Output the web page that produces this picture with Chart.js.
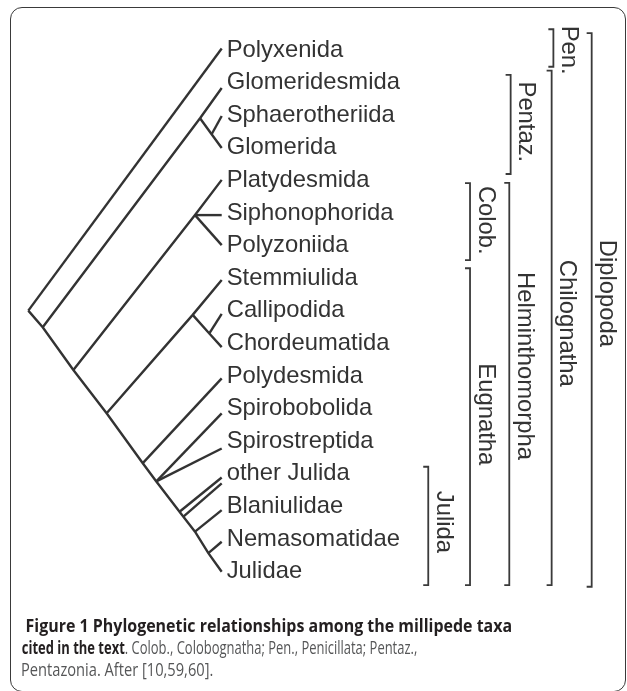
<!DOCTYPE html>
<html>
<head>
<meta charset="utf-8">
<script src="https://cdn.jsdelivr.net/npm/chart.js@4.4.1/dist/chart.umd.min.js"></script>
<style>
  html, body { margin: 0; padding: 0; background: #fff; }
  #wrap { position: relative; width: 627px; height: 691px; overflow: hidden; }
  #frame {
    position: absolute; left: 10px; top: 7px; width: 616px; height: 685px;
    box-sizing: border-box; border: 1.6px solid #3a3a3a; border-radius: 12px;
    pointer-events: none;
  }
  canvas { position: absolute; left: 0; top: 0; }
</style>
</head>
<body>
<div id="wrap">
  <canvas id="tree" width="627" height="691"></canvas>
  <div id="frame"></div>
</div>
<script>
// leaves, top to bottom (row = index)
const taxa = ['Polyxenida', 'Glomeridesmida', 'Sphaerotheriida', 'Glomerida', 'Platydesmida',
  'Siphonophorida', 'Polyzoniida', 'Stemmiulida', 'Callipodida', 'Chordeumatida', 'Polydesmida',
  'Spirobobolida', 'Spirostreptida', 'other Julida', 'Blaniulidae', 'Nemasomatidae', 'Julidae']
const tipDepth = 10
const tipRow = [0, 1.21, 2.07, 3.05, 4.03, 5.11, 6.03, 7.10, 8.14, 9.16, 10.12, 11.19, 12.27, 13.16, 14.16, 15.13, 16.05]

// internal nodes (depth from root, row position)
const nodeIds   = ['root', 'chilo', 'helm', 'eugn', 'pentaz', 'sphGlom', 'colob', 'stemGrp', 'callChord',
  'polydesNode', 'spiroNode', 'julA', 'julB', 'blanNode', 'nemaNode', 'otherJulida2']
const nodeDepth = [0, 0.745, 2.33, 4.05, 8.88, 9.48, 8.62, 8.50, 9.36, 5.92, 6.62, 7.82, 8.02, 8.62, 9.31, 10]
const nodeRow   = [8.04, 8.55, 9.86, 11.19, 2.14, 2.63, 5.11, 8.17, 8.74, 12.72, 13.28, 14.21, 14.36, 14.82, 15.48, 13.34]

// branches drawn as polylines through nodes / tips
const branches = [
  ['root', 'Polyxenida'],
  ['chilo', 'pentaz', 'Glomeridesmida'],
  ['pentaz', 'sphGlom', 'Glomerida'],
  ['sphGlom', 'Sphaerotheriida'],
  ['helm', 'colob', 'Platydesmida'],
  ['colob', 'Siphonophorida'],
  ['colob', 'Polyzoniida'],
  ['eugn', 'stemGrp', 'Stemmiulida'],
  ['stemGrp', 'callChord', 'Chordeumatida'],
  ['callChord', 'Callipodida'],
  ['polydesNode', 'Polydesmida'],
  ['spiroNode', 'Spirobobolida'],
  ['spiroNode', 'Spirostreptida'],
  ['julA', 'other Julida'],
  ['julB', 'otherJulida2'],
  ['blanNode', 'Blaniulidae'],
  ['nemaNode', 'Nemasomatidae'],
  ['root', 'chilo', 'helm', 'eugn', 'polydesNode', 'spiroNode', 'julA', 'julB', 'blanNode', 'nemaNode', 'Julidae'],
]

// clade brackets on the right
const cladeNames    = ['Julida', 'Colob.', 'Eugnatha', 'Pentaz.', 'Helminthomorpha', 'Pen.', 'Chilognatha', 'Diplopoda']
const cladeDepth    = [20.68, 22.84, 22.84, 24.94, 24.87, 27.15, 27.06, 29.13]
const cladeTop      = [12.83, 4.13, 6.74, 0.81, 4.12, -0.59, 0.68, -0.47]
const cladeBottom   = [16.46, 6.49, 16.46, 3.85, 16.46, 0.56, 16.46, 16.51]
const cladeLabelRow = [14.52, 5.27, 11.22, 2.25, 9.74, 0.05, 8.43, 7.51]

const captionLines = [
  [{ t: 'Figure 1 Phylogenetic relationships among the millipede taxa', b: true }],
  [{ t: 'cited in the text', b: true }, { t: '. Colob., Colobognatha; Pen., Penicillata; Pentaz.,', b: false }],
  [{ t: 'Pentazonia. After [10,59,60].', b: false }],
]

const LINE = '#333333'
const TICK = 0.26

function pointFor(id) {
  const ti = taxa.indexOf(id)
  if (ti >= 0) return { x: tipDepth, y: tipRow[ti] }
  const ni = nodeIds.indexOf(id)
  return { x: nodeDepth[ni], y: nodeRow[ni] }
}

function buildDatasets() {
  const tree = branches.map(path => ({
    data: path.map(pointFor),
    borderColor: LINE,
    borderWidth: 2.4,
    borderJoinStyle: 'miter',
    borderCapStyle: 'butt',
  }))
  const brackets = cladeNames.map((name, i) => ({
    data: [
      { x: cladeDepth[i] - TICK, y: cladeTop[i] },
      { x: cladeDepth[i], y: cladeTop[i] },
      { x: cladeDepth[i], y: cladeBottom[i] },
      { x: cladeDepth[i] - TICK, y: cladeBottom[i] },
    ],
    borderColor: '#3a3a3a',
    borderWidth: 1.8,
    borderJoinStyle: 'miter',
  }))
  return [...tree, ...brackets].map(ds => ({
    ...ds, showLine: true, pointRadius: 0, tension: 0, fill: false, clip: false,
  }))
}

const labelPlugin = {
  id: 'labels',
  afterDatasetsDraw(chart) {
    const { ctx, scales: { x, y } } = chart
    ctx.save()
    ctx.fillStyle = '#333'
    ctx.font = '23.8px "Liberation Sans", Arial, sans-serif'
    ctx.textAlign = 'left'
    ctx.textBaseline = 'alphabetic'
    taxa.forEach((name, i) => {
      ctx.fillText(name, x.getPixelForValue(tipDepth) + 5, y.getPixelForValue(i) + 8)
    })
    ctx.textAlign = 'center'
    cladeNames.forEach((name, i) => {
      ctx.save()
      ctx.translate(x.getPixelForValue(cladeDepth[i]) + 8.5, y.getPixelForValue(cladeLabelRow[i]))
      ctx.rotate(Math.PI / 2)
      ctx.fillText(name, 0, 0)
      ctx.restore()
    })
    ctx.restore()
  },
}

const captionPlugin = {
  id: 'caption',
  afterDraw(chart) {
    const ctx = chart.ctx
    const size = 17.4
    const spots = [
      { x: 25.6, y: 632.3, w: 486.5 },
      { x: 21.8, y: 654.0, w: 395.5 },
      { x: 21.0, y: 675.6, w: 192.3 },
    ]
    ctx.save()
    ctx.textBaseline = 'alphabetic'
    ctx.textAlign = 'left'
    captionLines.forEach((parts, li) => {
      const fonts = parts.map(p => `${p.b ? 'bold ' : ''}${size}px "Open Sans", sans-serif`)
      let total = 0
      const widths = parts.map((p, k) => {
        ctx.font = fonts[k]
        const w = ctx.measureText(p.t).width
        total += w
        return w
      })
      const sx = spots[li].w / total
      ctx.save()
      ctx.translate(spots[li].x, spots[li].y)
      ctx.scale(sx, 1)
      let cx = 0
      parts.forEach((p, k) => {
        ctx.font = fonts[k]
        ctx.fillStyle = p.b ? '#231f20' : '#555657'
        ctx.fillText(p.t, cx, 0)
        cx += widths[k]
      })
      ctx.restore()
    })
    ctx.restore()
  },
}

new Chart(document.getElementById('tree').getContext('2d'), {
  type: 'scatter',
  data: { datasets: buildDatasets() },
  options: {
    responsive: false,
    animation: false,
    layout: { padding: 0 },
    plugins: { legend: { display: false }, tooltip: { enabled: false } },
    scales: {
      x: { type: 'linear', display: false, min: -1.463, max: 30.956 },
      y: { type: 'linear', display: false, reverse: true, min: -1.4877, max: 19.708 },
    },
  },
  plugins: [labelPlugin, captionPlugin],
})
</script>
</body>
</html>
